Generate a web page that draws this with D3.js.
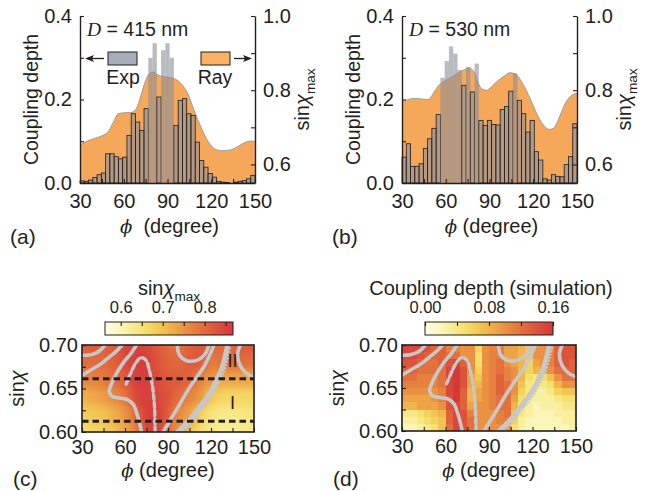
<!DOCTYPE html>
<html><head><meta charset="utf-8">
<script src="https://cdn.jsdelivr.net/npm/d3@7"></script>
<style>
body{margin:0;background:#fff}
svg{display:block}
text{font-family:"Liberation Sans",Arial,sans-serif;fill:#231f20}
</style></head><body>
<svg id="fig" width="653" height="491"></svg>
<script>
// ---------- data ----------
const phiDomain = [30, 150];
const depthDomain = [0, 0.4];
const sinMaxDomain = [0.55, 1.0];
const phiTicks = [30, 45, 60, 75, 90, 105, 120, 135, 150];
const phiLabels = [30, 60, 90, 120, 150];
const depthTicks = [0, 0.1, 0.2, 0.3, 0.4];
const depthLabels = [0, 0.2, 0.4];
const sinMaxTicks = [0.6, 0.7, 0.8, 0.9, 1.0];
const sinMaxLabels = [0.6, 0.8, 1.0];

// measured coupling depth histograms (41 bins over 30..150 deg)
const expA = [0.005,0.004,0.007,0.013,0.020,0.024,0.070,0.070,0.063,0.058,0.062,0.114,0.166,0.146,0.126,0.178,0.300,0.335,0.206,0.318,0.335,0.300,0.138,0.198,0.202,0.166,0.162,0.098,0.054,0.038,0.023,0.014,0.004,0.002,0.001,0.000,0.002,0.004,0.006,0.010,0.018];
const expB = [0.062,0.094,0.040,0.040,0.046,0.083,0.106,0.131,0.164,0.252,0.292,0.327,0.310,0.271,0.234,0.278,0.218,0.286,0.150,0.138,0.150,0.140,0.139,0.176,0.183,0.220,0.263,0.198,0.166,0.122,0.150,0.075,0.055,0.010,0.007,0.020,0.016,0.015,0.044,0.063,0.142];

// ray-model sin(chi_max) curves
const rayPhiA = [30,35,40,45,50,53,56,60,65,68,71,74,77,80,84,88,94,99,104,108,113,117,122,127,133,138,143,147,150];
const rayA = [0.652,0.663,0.670,0.677,0.692,0.715,0.736,0.739,0.740,0.747,0.775,0.815,0.842,0.849,0.840,0.836,0.832,0.819,0.790,0.748,0.700,0.667,0.643,0.637,0.639,0.648,0.659,0.663,0.662];
const rayPhiB = [30,35,40,44,48,52,55,58,62,67,72,76,79,82,85,88,91,95,100,104,108,113,118,123,127,131,134,138,142,146,150];
const rayB = [0.767,0.776,0.778,0.776,0.775,0.795,0.812,0.822,0.831,0.843,0.854,0.860,0.852,0.822,0.803,0.800,0.808,0.823,0.838,0.847,0.843,0.816,0.776,0.732,0.706,0.694,0.698,0.728,0.765,0.785,0.792];

// sin(chi_max) map over (phi, sin chi)
const mapPhi = [30,37.5,45,52.5,60,67.5,75,82.5,90,97.5,105,112.5,120,127.5,135,142.5,150];
const mapSin = [0.70,0.68,0.66,0.64,0.62,0.60];
const sinMaxMap = [
  [0.81,0.82,0.81,0.82,0.85,0.86,0.85,0.82,0.80,0.79,0.81,0.83,0.81,0.80,0.81,0.82,0.82],
  [0.80,0.80,0.80,0.81,0.84,0.86,0.86,0.83,0.81,0.80,0.82,0.82,0.78,0.79,0.80,0.80,0.79],
  [0.77,0.77,0.78,0.80,0.82,0.86,0.86,0.84,0.82,0.82,0.81,0.77,0.75,0.73,0.73,0.73,0.73],
  [0.72,0.73,0.74,0.76,0.79,0.85,0.86,0.85,0.83,0.80,0.77,0.75,0.69,0.67,0.67,0.67,0.67],
  [0.68,0.69,0.70,0.72,0.75,0.81,0.86,0.86,0.82,0.76,0.74,0.68,0.645,0.635,0.635,0.64,0.645],
  [0.66,0.67,0.68,0.70,0.73,0.78,0.85,0.86,0.81,0.75,0.70,0.66,0.635,0.625,0.625,0.63,0.635]
];
const sinMaxBarDomain = [0.5625, 0.8675];
const sinMaxBarTicks = [0.6, 0.65, 0.7, 0.75, 0.8, 0.85];
const sinMaxBarLabels = [0.6, 0.7, 0.8];

// simulated coupling depth, 24 x 12 cells (rows from sin chi = 0.70 down to 0.60)
const simDepth = [
  [.15,.15,.15,.14,.13,.13,.11,.11,.10,.10,.06,.10,.11,.11,.09,.09,.08,.07,.10,.10,.10,.13,.14,.14],
  [.15,.15,.14,.13,.13,.13,.12,.12,.10,.10,.05,.10,.11,.11,.09,.09,.08,.07,.10,.10,.11,.13,.14,.14],
  [.14,.14,.13,.12,.12,.13,.14,.15,.13,.10,.05,.10,.11,.12,.10,.09,.08,.06,.09,.10,.11,.13,.14,.13],
  [.13,.13,.12,.12,.12,.12,.15,.16,.14,.10,.06,.10,.11,.12,.11,.10,.08,.06,.08,.09,.10,.12,.13,.13],
  [.12,.12,.11,.11,.11,.12,.15,.16,.14,.09,.07,.10,.11,.13,.11,.10,.08,.05,.04,.05,.07,.10,.12,.12],
  [.11,.11,.11,.11,.11,.12,.15,.16,.14,.09,.08,.10,.11,.13,.12,.10,.07,.04,.03,.04,.05,.08,.10,.10],
  [.10,.10,.10,.10,.10,.11,.15,.16,.13,.08,.09,.10,.11,.13,.12,.10,.06,.04,.03,.03,.04,.06,.07,.07],
  [.09,.09,.09,.09,.10,.11,.14,.16,.13,.08,.09,.10,.11,.12,.12,.09,.05,.03,.03,.03,.03,.04,.05,.05],
  [.08,.08,.09,.09,.09,.10,.14,.15,.13,.09,.10,.10,.11,.12,.12,.08,.04,.03,.02,.03,.03,.03,.04,.04],
  [.04,.04,.05,.06,.07,.08,.13,.15,.14,.11,.10,.10,.10,.11,.12,.07,.04,.03,.02,.02,.02,.03,.03,.03],
  [.03,.03,.04,.05,.06,.07,.13,.15,.14,.12,.10,.10,.10,.11,.11,.06,.03,.02,.02,.02,.02,.02,.03,.03],
  [.02,.02,.03,.04,.05,.07,.12,.15,.14,.12,.10,.10,.10,.10,.10,.05,.03,.02,.02,.02,.02,.02,.02,.03]
];
const simBarDomain = [0, 0.16];
const simBarTicks = [0, 0.04, 0.08, 0.12, 0.16];
const simBarLabels = [0, 0.08, 0.16];

const sinDomain = [0.60, 0.70];
const sinTicks = [0.60, 0.625, 0.65, 0.675, 0.70];
const sinLabels = [0.60, 0.65, 0.70];

// gray contour traces (phi, sin chi)
const contourTraces = [
  [[30,0.688],[35,0.6885],[40,0.691],[43.5,0.695],[46,0.70]],
  [[30,0.665],[36,0.671],[43,0.678],[49,0.686],[54,0.693],[58,0.70]],
  [[68,0.70],[64,0.69],[59,0.68],[54,0.667],[50.5,0.655],[49,0.647],[51,0.641],[56,0.639],[62,0.637],[66,0.631],[68.5,0.62],[70.5,0.608],[71.5,0.60]],
  [[86.5,0.60],[95,0.623],[103.5,0.647],[110,0.663],[115,0.675],[119.5,0.69],[122,0.70]],
  [[96.5,0.70],[97.8,0.689],[103,0.682],[111,0.683],[116,0.69],[118.5,0.70]],
  [[140.5,0.70],[138.5,0.689],[140.5,0.676],[145,0.667],[150,0.663]]
];
const ridgeTrace = [[97,0.60],[103,0.61],[108,0.62],[114,0.633],[120,0.647],[124,0.66],[127,0.671],[129.5,0.685],[131.5,0.70]];
const dottedTrace = [[60.8,0.655],[64.3,0.669],[67.8,0.680],[71.2,0.6855],[74.7,0.6824],[77,0.671],[79.3,0.651],[80.5,0.631],[81,0.60]];

// regimes I and II
const regimeLevels = [0.6612, 0.6125];
const regimeNames = ["II", "I"];
const regimeLabelAt = [[135, 0.6745], [135, 0.6265]];

// ---------- drawing ----------
const svg = d3.select("#fig");
const defs = svg.append("defs");
const ink = "#231f20";
const gray = "#c8c8c8";
const ramp = d3.interpolateRgbBasis(["#fffdec","#faf3a8","#f5de5e","#f0b64a","#e8863f","#df5c3a","#d6383a"]);

function styleAxis(g, size) {
  g.attr("font-size", null).attr("font-family", null);
  g.select(".domain").attr("stroke", ink).attr("stroke-width", 1.4);
  g.selectAll(".tick line").attr("stroke", ink).attr("stroke-width", 1.1);
  g.selectAll(".tick text").attr("font-size", size).attr("fill", ink);
}
const fmt1 = d3.format(".1f"), fmt2 = d3.format(".2f");

function phiTitle(x, y, gap) {
  const t = svg.append("text").attr("x", x).attr("y", y).attr("text-anchor", "middle").attr("font-size", 20);
  t.append("tspan").attr("font-family", "'DejaVu Serif',serif").attr("font-style", "italic").attr("font-size", 18).text("\u03d5");
  t.append("tspan").text(gap + "(degree)");
}
function sinChiText(sel, size, sub) {
  sel.append("tspan").text("sin");
  sel.append("tspan").attr("font-style", "italic").text("\u03c7");
  if (sub) sel.append("tspan").attr("font-size", size * 0.68).attr("dy", size * 0.28).text("max");
}

function histPanel(o) {
  const g = svg.append("g");
  const x = d3.scaleLinear(phiDomain, [o.x0, o.x1]);
  const bins = d3.scaleBand(d3.range(o.exp.length), [o.x0, o.x1]);
  const binPhi = d3.scaleLinear([0, o.exp.length], phiDomain);
  const yL = d3.scaleLinear(depthDomain, [o.y1, o.y0]);
  const yR = d3.scaleLinear(sinMaxDomain, [o.y1, o.y0]);
  const ray = o.rayPhi.map((p, i) => ({phi: p, v: o.ray[i]}));
  const rayAt = d3.scaleLinear(o.rayPhi, o.ray);
  const area = d3.area().x(d => x(d.phi)).y0(o.y1).y1(d => yR(d.v)).curve(d3.curveMonotoneX);
  g.append("path").datum(ray).attr("d", area).attr("fill", "#f6a85a");
  g.append("path").datum(ray).attr("d", area.lineY1()).attr("fill", "none").attr("stroke", "#9c9c9c").attr("stroke-width", 1);

  g.selectAll("rect.bar").data(o.exp).join("rect").attr("class", "bar")
    .attr("x", (d, i) => bins(i)).attr("width", bins.bandwidth())
    .attr("y", d => yL(d)).attr("height", d => o.y1 - yL(d))
    .attr("fill", "#8b8e98").attr("fill-opacity", 0.6)
    .attr("stroke", (d, i) => yL(d) > yR(rayAt(binPhi(i + 0.5))) ? "#1e1e20" : "none")
    .attr("stroke-width", 0.8);

  const ax = g.append("g").attr("transform", `translate(0,${o.y1})`)
    .call(d3.axisBottom(x).tickValues(phiTicks).tickSizeInner(-4).tickSizeOuter(0).tickPadding(11)
      .tickFormat(d => phiLabels.includes(d) ? d : ""));
  styleAxis(ax, 20);
  const al = g.append("g").attr("transform", `translate(${o.x0},0)`)
    .call(d3.axisLeft(yL).tickValues(depthTicks).tickSizeInner(-4).tickSizeOuter(0).tickPadding(8)
      .tickFormat(d => depthLabels.includes(d) ? fmt1(d) : ""));
  styleAxis(al, 20);
  const ar = g.append("g").attr("transform", `translate(${o.x1},0)`)
    .call(d3.axisRight(yR).tickValues(sinMaxTicks).tickSizeInner(-4).tickSizeOuter(0).tickPadding(8)
      .tickFormat(d => sinMaxLabels.includes(d) ? fmt1(d) : ""));
  styleAxis(ar, 20);

  svg.append("text").attr("transform", `translate(${o.x0 - 42},${(o.y0 + o.y1) / 2}) rotate(-90)`)
    .attr("text-anchor", "middle").attr("font-size", 19.5).text("Coupling depth");
  const rt = svg.append("text").attr("transform", `translate(${o.x1 + 54},${(o.y0 + o.y1) / 2}) rotate(-90)`)
    .attr("text-anchor", "middle").attr("font-size", 20);
  sinChiText(rt, 20, true);

  const dt = svg.append("text").attr("x", o.x0 + 7).attr("y", 36).attr("font-size", 19.5);
  dt.append("tspan").attr("font-family", "'Liberation Serif',serif").attr("font-style", "italic").text("D");
  dt.append("tspan").text(" = " + o.size + " nm");

  phiTitle((o.x0 + o.x1) / 2 + 2, 233, o.gap);
  svg.append("text").attr("x", o.x0 - 70).attr("y", 244).attr("font-size", 21).text(o.tag);
  return {x, yL, yR};
}

histPanel({x0: 80, x1: 255, y0: 16, y1: 183, exp: expA, rayPhi: rayPhiA, ray: rayA, size: 415, tag: "(a)", gap: "\u00a0\u00a0"});
histPanel({x0: 402, x1: 577, y0: 16, y1: 183, exp: expB, rayPhi: rayPhiB, ray: rayB, size: 530, tag: "(b)", gap: "\u00a0"});

// legend of panel (a)
(function legend() {
  const g = svg.append("g");
  g.append("rect").attr("x", 108).attr("y", 52).attr("width", 29).attr("height", 13)
    .attr("fill", "#a9adbb").attr("stroke", ink).attr("stroke-width", 1);
  g.append("rect").attr("x", 201).attr("y", 52).attr("width", 29).attr("height", 13)
    .attr("fill", "#f9b264").attr("stroke", ink).attr("stroke-width", 1);
  g.append("text").attr("x", 123).attr("y", 84).attr("text-anchor", "middle").attr("font-size", 19.5).text("Exp");
  g.append("text").attr("x", 215).attr("y", 84).attr("text-anchor", "middle").attr("font-size", 19.5).text("Ray");
  g.append("line").attr("x1", 90).attr("x2", 104).attr("y1", 58.5).attr("y2", 58.5).attr("stroke", ink).attr("stroke-width", 1.3);
  g.append("path").attr("d", "M85,58.5 L94,55 L92,58.5 L94,62 Z").attr("fill", ink);
  g.append("line").attr("x1", 234).attr("x2", 247).attr("y1", 58.5).attr("y2", 58.5).attr("stroke", ink).attr("stroke-width", 1.3);
  g.append("path").attr("d", "M252,58.5 L243,55 L245,58.5 L243,62 Z").attr("fill", ink);
})();

function mapPanel(o) {
  const g = svg.append("g");
  const x = d3.scaleLinear(phiDomain, [o.x0, o.x1]);
  const y = d3.scaleLinear(sinDomain, [o.y1, o.y0]);
  const clipId = "clip" + o.tag;
  defs.append("clipPath").attr("id", clipId).append("rect")
    .attr("x", o.x0).attr("y", o.y0).attr("width", o.x1 - o.x0).attr("height", o.y1 - o.y0);
  const body = g.append("g").attr("clip-path", `url(#${clipId})`);
  o.drawCells(body, x, y);

  const line = d3.line().x(d => x(d[0])).y(d => y(d[1])).curve(d3.curveCatmullRom);
  body.selectAll("path.ct").data(contourTraces).join("path").attr("class", "ct")
    .attr("d", line).attr("fill", "none").attr("stroke", gray).attr("stroke-width", 3.6)
    .attr("stroke-linecap", "round").attr("stroke-linejoin", "round");
  body.append("path").datum(ridgeTrace).attr("d", line).attr("fill", "none")
    .attr("stroke", gray).attr("stroke-width", 4.6).attr("stroke-linecap", "round");
  body.append("path").datum(ridgeTrace).attr("d", line).attr("transform", "translate(3,1)").attr("fill", "none")
    .attr("stroke", gray).attr("stroke-width", 2.4).attr("stroke-linecap", "round").attr("stroke-dasharray", "0.1 3.2");
  body.append("path").datum(dottedTrace).attr("d", line).attr("fill", "none")
    .attr("stroke", gray).attr("stroke-width", 3.4).attr("stroke-linecap", "round")
    .attr("stroke-dasharray", "5 3");
  if (o.regimes) {
    body.selectAll("path.rg").data(regimeLevels).join("path").attr("class", "rg")
      .attr("d", v => line.curve(d3.curveLinear)([[phiDomain[0], v], [phiDomain[1], v]]))
      .attr("fill", "none").attr("stroke", ink).attr("stroke-width", 3).attr("stroke-dasharray", "6.5 4");
    g.selectAll("text.rn").data(regimeNames).join("text").attr("class", "rn")
      .attr("x", (d, i) => x(regimeLabelAt[i][0])).attr("y", (d, i) => y(regimeLabelAt[i][1]))
      .attr("text-anchor", "middle").attr("font-family", "'Liberation Serif',serif").attr("font-size", 18).text(d => d);
  }
  g.append("rect").attr("x", o.x0).attr("y", o.y0).attr("width", o.x1 - o.x0).attr("height", o.y1 - o.y0)
    .attr("fill", "none").attr("stroke", ink).attr("stroke-width", 1.6);

  const ax = g.append("g").attr("transform", `translate(0,${o.y1})`)
    .call(d3.axisBottom(x).tickValues(phiTicks).tickSizeInner(-4).tickSizeOuter(0).tickPadding(8)
      .tickFormat(d => phiLabels.includes(d) ? d : ""));
  styleAxis(ax, 20);
  ax.select(".domain").remove();
  const al = g.append("g").attr("transform", `translate(${o.x0},0)`)
    .call(d3.axisLeft(y).tickValues(sinTicks).tickSizeInner(-4).tickSizeOuter(0).tickPadding(4)
      .tickFormat(d => sinLabels.includes(d) ? fmt2(d) : ""));
  styleAxis(al, 20);
  al.select(".domain").remove();

  const lt = svg.append("text").attr("transform", `translate(${o.x0 - 58},${(o.y0 + o.y1) / 2}) rotate(-90)`)
    .attr("text-anchor", "middle").attr("font-size", 20);
  sinChiText(lt, 20, false);
  phiTitle((o.x0 + o.x1) / 2, 477, "\u00a0");
  svg.append("text").attr("x", o.x0 - 69).attr("y", 486).attr("font-size", 21).text("(" + o.tag + ")");

  // colour bar
  const cb = d3.scaleLinear(o.barDomain, [o.bx0, o.bx1]);
  const gid = "grad" + o.tag;
  const grad = defs.append("linearGradient").attr("id", gid);
  d3.range(0, 1.0001, 0.05).forEach(t => grad.append("stop").attr("offset", t).attr("stop-color", ramp(t)));
  g.append("rect").attr("x", o.bx0).attr("y", 322).attr("width", o.bx1 - o.bx0).attr("height", 13)
    .attr("fill", `url(#${gid})`).attr("stroke", ink).attr("stroke-width", 1);
  const at = g.append("g").attr("transform", "translate(0,322)")
    .call(d3.axisTop(cb).tickValues(o.barTicks).tickSizeInner(-4).tickSizeOuter(0).tickPadding(9)
      .tickFormat(d => o.barLabels.includes(d) ? o.barFmt(d) : ""));
  styleAxis(at, 16.5);
  at.select(".domain").remove();
  const tt = svg.append("text").attr("x", o.titleX).attr("y", 295).attr("text-anchor", "middle").attr("font-size", 20);
  o.title(tt);
}

// (c) smooth sin(chi_max) map
const sinMaxColor = d3.scaleSequential(sinMaxBarDomain, ramp);
defs.append("filter").attr("id", "soft").attr("filterUnits", "userSpaceOnUse")
  .attr("x", 40).attr("y", 300).attr("width", 260).attr("height", 180)
  .append("feGaussianBlur").attr("stdDeviation", 4.5);
mapPanel({
  tag: "c", x0: 82, x1: 254, y0: 345, y1: 432, regimes: true,
  bx0: 105, bx1: 233, barDomain: sinMaxBarDomain, barTicks: sinMaxBarTicks, barLabels: sinMaxBarLabels,
  barFmt: fmt1, titleX: 169,
  title: t => sinChiText(t, 20, true),
  drawCells: (body, x, y) => {
    const cells = [];
    sinMaxMap.forEach((row, i) => row.forEach((v, j) => cells.push({i, j, v})));
    const edgeX = j => j === 0 ? x(mapPhi[0]) - 25 : x((mapPhi[j - 1] + mapPhi[j]) / 2);
    const edgeY = i => i === 0 ? y(mapSin[0]) - 25 : y((mapSin[i - 1] + mapSin[i]) / 2);
    const nx = mapPhi.length, ny = mapSin.length;
    const endX = j => j === nx - 1 ? x(mapPhi[nx - 1]) + 25 : edgeX(j + 1);
    const endY = i => i === ny - 1 ? y(mapSin[ny - 1]) + 25 : edgeY(i + 1);
    body.append("g").attr("filter", "url(#soft)").selectAll("rect").data(cells).join("rect")
      .attr("x", d => edgeX(d.j)).attr("y", d => edgeY(d.i))
      .attr("width", d => endX(d.j) - edgeX(d.j) + 0.5).attr("height", d => endY(d.i) - edgeY(d.i) + 0.5)
      .attr("fill", d => sinMaxColor(d.v));
  }
});

// (d) simulated coupling depth map
const simColor = d3.scaleSequential(simBarDomain, ramp);
mapPanel({
  tag: "d", x0: 402, x1: 576, y0: 345, y1: 431, regimes: false,
  bx0: 425, bx1: 553, barDomain: simBarDomain, barTicks: simBarTicks, barLabels: simBarLabels,
  barFmt: fmt2, titleX: 491,
  title: t => t.text("Coupling depth (simulation)"),
  drawCells: (body, x, y) => {
    const cols = d3.scaleBand(d3.range(simDepth[0].length), [x(phiDomain[0]), x(phiDomain[1])]);
    const rows = d3.scaleBand(d3.range(simDepth.length), [y(sinDomain[1]), y(sinDomain[0])]);
    const cells = [];
    simDepth.forEach((row, i) => row.forEach((v, j) => cells.push({i, j, v})));
    body.selectAll("rect").data(cells).join("rect")
      .attr("x", d => cols(d.j)).attr("y", d => rows(d.i))
      .attr("width", cols.bandwidth() + 0.6).attr("height", rows.bandwidth() + 0.6)
      .attr("fill", d => simColor(d.v)).attr("shape-rendering", "crispEdges");
  }
});
</script>
</body></html>
